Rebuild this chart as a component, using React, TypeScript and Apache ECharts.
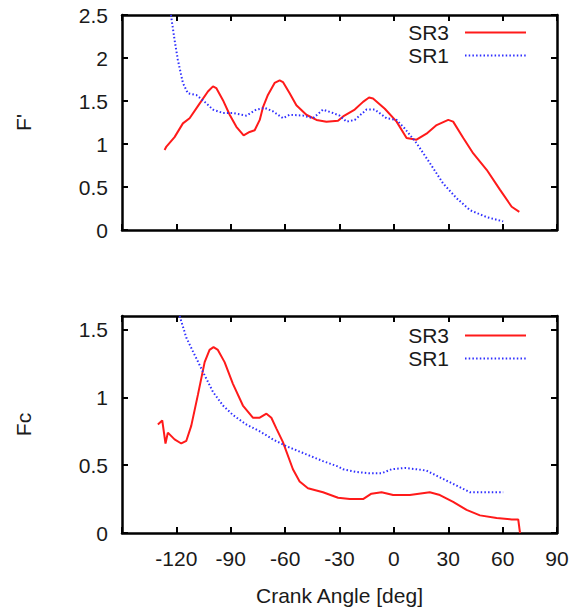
import React, { useEffect, useRef } from "react";
import * as echarts from "echarts";

const xTicks = [-150, -120, -90, -60, -30, 0, 30, 60, 90];

const topSR3: [number, number][] = [
  [-126.5, 0.93], [-125.5, 0.97], [-121, 1.08], [-116.4, 1.24], [-112.7, 1.3], [-107.2, 1.47],
  [-102.6, 1.61], [-99.8, 1.67], [-98, 1.65], [-94.3, 1.51], [-90.6, 1.34], [-86.9, 1.2],
  [-82.9, 1.1], [-79.6, 1.14], [-76.8, 1.16], [-74, 1.28], [-72.2, 1.43], [-69.5, 1.57],
  [-65.8, 1.71], [-63, 1.74], [-61.2, 1.72], [-57.5, 1.59], [-53.8, 1.45], [-48.3, 1.34],
  [-42.7, 1.28], [-37.2, 1.26], [-30.8, 1.27], [-28, 1.32], [-21.6, 1.4], [-17, 1.49],
  [-13.7, 1.54], [-11.5, 1.53], [-5, 1.41], [1.5, 1.26], [7, 1.07], [12.5, 1.05], [18, 1.12],
  [23.6, 1.22], [30, 1.28], [32.7, 1.26], [38.3, 1.07], [43.8, 0.89], [51.2, 0.7], [58.5, 0.47],
  [65, 0.27], [69.2, 0.21],
];

const topSR1: [number, number][] = [
  [-123, 2.5], [-121, 2.21], [-119.2, 1.98], [-116.4, 1.71], [-113.7, 1.59], [-109, 1.57],
  [-104.4, 1.49], [-99.8, 1.4], [-94.3, 1.36], [-88.8, 1.36], [-81.4, 1.33], [-75.9, 1.4],
  [-71.3, 1.42], [-66.7, 1.38], [-61.2, 1.3], [-57.5, 1.34], [-50.1, 1.33], [-44.6, 1.3],
  [-39.1, 1.4], [-33.6, 1.36], [-29.9, 1.33], [-26.2, 1.26], [-21.6, 1.28], [-15.1, 1.4],
  [-10.5, 1.4], [-4.1, 1.3], [1.5, 1.28], [6, 1.18], [12.5, 1.01], [19.8, 0.78], [27.2, 0.54],
  [34.6, 0.37], [42, 0.23], [51.2, 0.15], [60.3, 0.1],
];

const botSR3: [number, number][] = [
  [-130.2, 0.8], [-127.8, 0.83], [-126, 0.66], [-124.7, 0.74], [-121, 0.69], [-117.3, 0.66],
  [-114.5, 0.68], [-111.8, 0.79], [-108.1, 1.02], [-104.4, 1.26], [-101.7, 1.35], [-99.5, 1.37],
  [-97.1, 1.35], [-93.4, 1.26], [-88.8, 1.1], [-83.3, 0.94], [-77.8, 0.85], [-74, 0.85],
  [-70.3, 0.88], [-67.6, 0.85], [-64.8, 0.77], [-61.2, 0.67], [-55.7, 0.47], [-52, 0.38],
  [-47.4, 0.33], [-39.1, 0.3], [-30.8, 0.26], [-24.3, 0.25], [-17, 0.25], [-12.4, 0.29],
  [-6.8, 0.3], [-0.4, 0.28], [8.8, 0.28], [19.8, 0.3], [25.4, 0.28], [32.7, 0.23], [40.1, 0.17],
  [47.5, 0.13], [56.7, 0.11], [65, 0.1], [68.6, 0.1], [69.6, 0],
];

const botSR1: [number, number][] = [
  [-118.2, 1.6], [-114.5, 1.44], [-110.9, 1.34], [-105.4, 1.19], [-99.8, 1.04], [-94.3, 0.94],
  [-88.8, 0.87], [-81.4, 0.8], [-74, 0.75], [-66.7, 0.69], [-59.3, 0.64], [-48.3, 0.58],
  [-39.1, 0.53], [-30.8, 0.49], [-28, 0.47], [-20.6, 0.45], [-13.3, 0.44], [-6.8, 0.44],
  [-1.3, 0.47], [6, 0.48], [12.5, 0.47], [18, 0.46], [25.4, 0.41], [34.6, 0.35], [42, 0.3],
  [51.2, 0.3], [60.3, 0.3],
];

const seriesNames = ["SR3", "SR1"];
const yTopName = "F'";
const yBotName = "Fc";
const xName = "Crank Angle [deg]";

const FONT = "'Liberation Sans', Arial, Helvetica, sans-serif";
const TXT = "#1a1a1a";
const FS = 21;

export default function App() {
  const ref = useRef<HTMLDivElement>(null);
  useEffect(() => {
    if (!ref.current) return;
    const chart = echarts.init(ref.current, undefined, { renderer: "svg" });
    const tick = { show: true, inside: true, length: 6, lineStyle: { color: "#000", width: 2 } };
    const line = { show: true, onZero: false, lineStyle: { color: "#000", width: 2.5 } };
    const xBase = (gridIndex: number, pos: "bottom" | "top", labels: boolean) => ({
      type: "value" as const,
      gridIndex,
      position: pos,
      min: xTicks[0],
      max: xTicks[xTicks.length - 1],
      interval: 30,
      axisLine: line,
      axisTick: tick,
      splitLine: { show: false },
      axisLabel: {
        show: labels,
        fontSize: FS,
        color: TXT,
        fontFamily: FONT,
        margin: 15,
        formatter: (v: number) => (v === xTicks[0] ? "" : String(v)),
      },
      ...(labels
        ? {
            name: xName,
            nameLocation: "middle" as const,
            nameGap: 62,
            nameTextStyle: { fontSize: FS, color: TXT, fontFamily: FONT, verticalAlign: "middle" },
          }
        : {}),
    });
    const yBase = (gridIndex: number, pos: "left" | "right", max: number, name?: string) => ({
      type: "value" as const,
      gridIndex,
      position: pos,
      min: 0,
      max,
      interval: 0.5,
      axisLine: line,
      axisTick: tick,
      splitLine: { show: false },
      axisLabel: {
        show: pos === "left",
        fontSize: FS,
        color: TXT,
        fontFamily: FONT,
        margin: 14,
        showMaxLabel: max === 2.5,
      },
      ...(name
        ? {
            name,
            nameLocation: "middle" as const,
            nameRotate: 90,
            nameGap: 88,
            nameTextStyle: { fontSize: FS, color: TXT, fontFamily: FONT },
          }
        : {}),
    });
    const red = { color: "#ff1a1a", width: 2, type: "solid" as const };
    const blue = { color: "#2f2fff", width: 2, type: [1.5, 2.2] as any };
    const legendBase = (top: number) => ({
      orient: "vertical" as const,
      align: "right" as const,
      right: 54,
      top,
      padding: 0,
      itemWidth: 61,
      itemHeight: 14,
      itemGap: 0,
      data: seriesNames,
      itemStyle: { opacity: 0 },
      textStyle: { fontSize: FS, lineHeight: 23, height: 23, color: TXT, fontFamily: FONT, padding: [0, 11, 0, 0] },
      selectedMode: false,
    });
    chart.setOption({
      animation: false,
      grid: [
        { left: 122, top: 15, width: 435, height: 215 },
        { left: 122, top: 316, width: 435, height: 217 },
      ],
      xAxis: [xBase(0, "bottom", false), xBase(0, "top", false), xBase(1, "bottom", true), xBase(1, "top", false)],
      yAxis: [yBase(0, "left", 2.5, yTopName), yBase(0, "right", 2.5), yBase(1, "left", 1.6, yBotName), yBase(1, "right", 1.6)],
      legend: [legendBase(21), legendBase(324)],
      series: [
        { name: seriesNames[0], type: "line", xAxisIndex: 0, yAxisIndex: 0, data: topSR3, showSymbol: false, symbol: "none", lineStyle: red, itemStyle: { color: red.color } },
        { name: seriesNames[1], type: "line", xAxisIndex: 0, yAxisIndex: 0, data: topSR1, showSymbol: false, symbol: "none", lineStyle: blue, itemStyle: { color: blue.color } },
        { name: seriesNames[0], type: "line", xAxisIndex: 2, yAxisIndex: 2, data: botSR3, showSymbol: false, symbol: "none", lineStyle: red, itemStyle: { color: red.color } },
        { name: seriesNames[1], type: "line", xAxisIndex: 2, yAxisIndex: 2, data: botSR1, showSymbol: false, symbol: "none", lineStyle: blue, itemStyle: { color: blue.color } },
      ],
    });
    return () => chart.dispose();
  }, []);
  return <div ref={ref} style={{ width: 581, height: 610, position: "absolute", left: 0, top: 0 }} />;
}
